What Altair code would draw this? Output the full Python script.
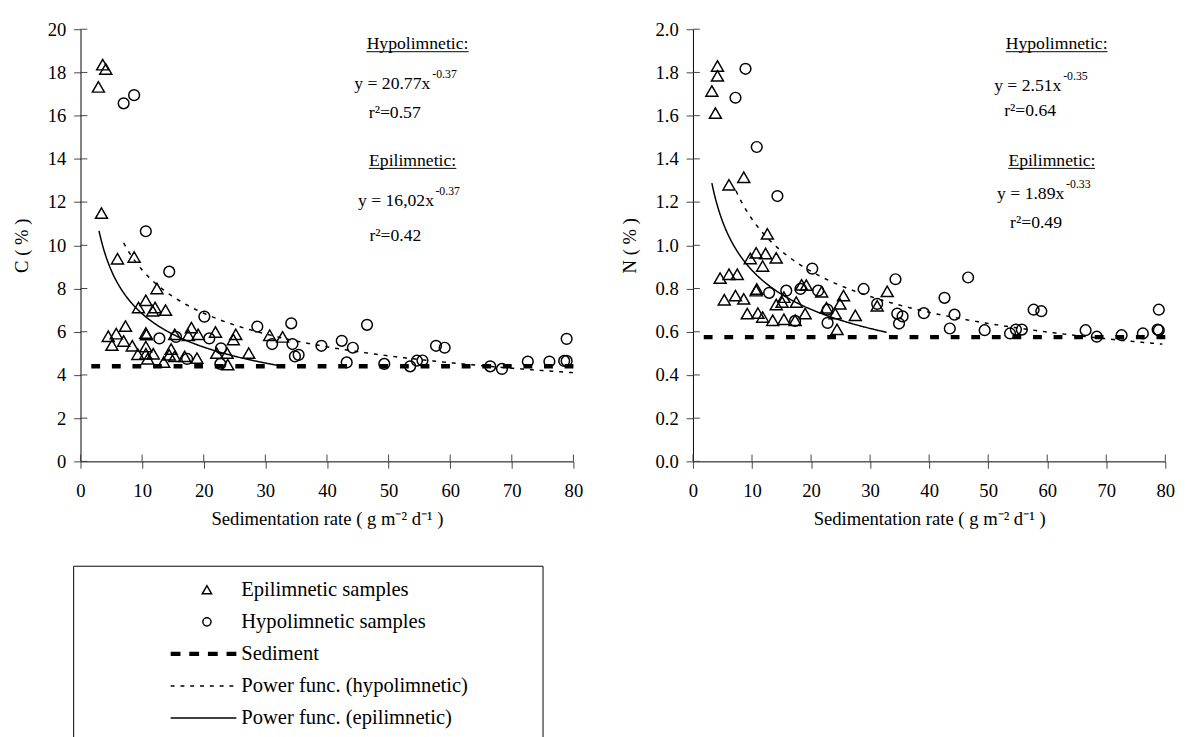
import altair as alt
import pandas as pd

FONT = "Liberation Serif"

# ---------------- data ----------------
# Carbon panel (C %)
epi_c_rate = [3.6, 4.1, 2.9, 3.4, 6.0, 8.7, 12.4, 10.6, 9.4, 12.1, 11.7, 13.8,
              4.5, 5.8, 5.1, 7.3, 7.0, 8.4, 9.3, 10.6, 10.7, 10.6, 10.6, 10.9,
              11.8, 13.5, 14.4, 14.7, 15.3, 15.3, 16.9, 17.5, 18.0, 18.9, 19.1, 21.9,
              22.1, 23.9, 23.8, 24.8, 25.2, 27.3, 30.7, 32.8]
epi_c_val = [18.36, 18.16, 17.33, 11.49, 9.38, 9.46, 8.0, 7.45, 7.12, 7.12, 6.97, 7.0,
             5.79, 5.91, 5.38, 6.26, 5.57, 5.35, 4.96, 5.94, 5.87, 5.31, 4.98, 4.75,
             4.98, 4.6, 4.93, 5.2, 5.88, 4.86, 4.86, 5.84, 6.19, 4.78, 5.88, 5.99,
             5.01, 4.48, 5.01, 5.64, 5.88, 5.01, 5.84, 5.76]
hypo_c_rate = [7.0, 8.7, 10.6, 14.4, 20.1, 12.8, 15.5, 20.9, 22.8, 17.3, 22.7, 28.7,
               31.1, 34.2, 34.4, 34.8, 35.4, 39.1, 42.4, 44.2, 43.2, 46.5, 49.3, 53.5,
               54.6, 55.5, 57.7, 59.1, 66.5, 68.4, 72.6, 76.1, 78.5, 78.9, 78.9]
hypo_c_val = [16.57, 16.95, 10.65, 8.78, 6.7, 5.69, 5.76, 5.69, 5.23, 4.74, 4.51, 6.24,
              5.43, 6.39, 5.43, 4.86, 4.93, 5.35, 5.58, 5.26, 4.58, 6.32, 4.51, 4.40,
              4.66, 4.67, 5.35, 5.26, 4.40, 4.28, 4.62, 4.62, 4.65, 4.65, 5.67]

# Nitrogen panel (N %)
epi_n_rate = [4.15, 4.15, 3.2, 3.8, 8.6, 6.1, 12.6, 10.7, 12.3, 9.7, 14.1, 11.8,
              4.6, 6.1, 7.5, 5.3, 7.2, 8.6, 10.7, 10.8, 15.4, 14.1, 15.1, 17.5,
              18.4, 19.2, 21.8, 9.2, 11.0, 11.8, 13.5, 15.4, 17.3, 19.0, 22.6, 24.1,
              24.4, 25.5, 24.9, 27.5, 31.2, 32.9]
epi_n_val = [1.83, 1.784, 1.714, 1.612, 1.315, 1.28, 1.053, 0.965, 0.962, 0.939, 0.942, 0.904,
             0.848, 0.866, 0.866, 0.748, 0.767, 0.752, 0.79, 0.798, 0.76, 0.726, 0.737, 0.737,
             0.817, 0.816, 0.785, 0.684, 0.686, 0.668, 0.653, 0.658, 0.653, 0.684, 0.711, 0.684,
             0.611, 0.767, 0.729, 0.676, 0.72, 0.787]
hypo_n_rate = [8.9, 7.2, 10.8, 14.3, 20.2, 12.9, 15.8, 18.2, 21.2, 17.3, 22.8, 22.8,
               28.9, 31.2, 34.3, 34.6, 35.5, 34.9, 39.1, 42.6, 44.3, 43.5, 46.6, 49.4,
               53.7, 54.7, 55.7, 57.7, 59.0, 66.5, 68.4, 72.6, 76.2, 78.7, 78.9, 78.9]
hypo_n_val = [1.817, 1.683, 1.455, 1.228, 0.892, 0.78, 0.79, 0.798, 0.79, 0.65, 0.702, 0.641,
              0.798, 0.729, 0.843, 0.684, 0.671, 0.638, 0.686, 0.757, 0.679, 0.615, 0.851, 0.607,
              0.592, 0.61, 0.61, 0.702, 0.695, 0.607, 0.577, 0.584, 0.592, 0.61, 0.607, 0.702]

sediment_c = 4.4
sediment_n = 0.575

# fitted power functions y = a * x^b, drawn over [x_start, x_end]
fit_c_hypo = {"a": 20.77, "b": -0.37, "start": 7.0, "end": 80.0}
fit_c_epi = {"a": 16.02, "b": -0.37, "start": 3.0, "end": 32.8}
fit_n_hypo = {"a": 2.51, "b": -0.35, "start": 7.3, "end": 79.5}
fit_n_epi = {"a": 1.89, "b": -0.33, "start": 3.2, "end": 32.9}

x_ticks = [0, 10, 20, 30, 40, 50, 60, 70, 80]
c_ticks = [0, 2, 4, 6, 8, 10, 12, 14, 16, 18, 20]
n_ticks = [0.0, 0.2, 0.4, 0.6, 0.8, 1.0, 1.2, 1.4, 1.6, 1.8, 2.0]

# annotation texts (positions in data units)
c_notes_text = ["Hypolimnetic:", "y = 20.77x", "r²=0.57", "Epilimnetic:", "y = 16,02x", "r²=0.42"]
c_notes_rate = [54.7, 50.6, 51.0, 53.9, 51.2, 51.1]
c_notes_val = [19.32, 17.46, 16.10, 13.92, 12.06, 10.43]
c_sup_text = ["-0.37", "-0.37"]
c_sup_rate = [57.1, 57.6]
c_sup_val = [17.91, 12.52]
c_under_rate = [46.4, 46.8]
c_under_rate2 = [63.0, 61.0]
c_under_val = [18.96, 13.56]

n_notes_text = ["Hypolimnetic:", "y = 2.51x", "r²=0.64", "Epilimnetic:", "y = 1.89x", "r²=0.49"]
n_notes_rate = [61.6, 56.7, 57.1, 60.8, 57.2, 58.1]
n_notes_val = [1.932, 1.737, 1.619, 1.392, 1.238, 1.102]
n_sup_text = ["-0.35", "-0.33"]
n_sup_rate = [62.7, 63.2]
n_sup_val = [1.783, 1.283]
n_under_rate = [53.0, 53.4]
n_under_rate2 = [70.2, 68.1]
n_under_val = [1.896, 1.356]

legend_labels = ["Epilimnetic samples", "Hypolimnetic samples", "Sediment",
                 "Power func. (hypolimnetic)", "Power func. (epilimnetic)"]

X_TITLE = "Sedimentation rate ( g m⁻² d⁻¹ )"


def panel(epi_x, epi_y, hypo_x, hypo_y, sed, fit_h, fit_e, ymax, yticks, ytitle, yfmt,
          notes, sups, unders, width, height, ytitle_pad):
    xs = alt.Scale(domain=[0, 80], nice=False, zero=False)
    ys = alt.Scale(domain=[0, ymax], nice=False, zero=False)
    xax = alt.Axis(values=x_ticks, title=X_TITLE, format="d", labelFlush=False,
                   labelPadding=14, titlePadding=9, tickSize=7)
    yax = alt.Axis(values=yticks, format=yfmt, title=ytitle, labelPadding=8,
                   titlePadding=ytitle_pad, tickSize=7)
    X = alt.X("rate:Q", scale=xs, axis=xax)
    Y = alt.Y("val:Q", scale=ys, axis=yax)

    epi = pd.DataFrame({"rate": epi_x, "val": epi_y})
    hyp = pd.DataFrame({"rate": hypo_x, "val": hypo_y})

    tri = alt.Chart(epi).mark_point(shape="triangle-up", size=150, filled=False,
                                    color="black", strokeWidth=1.5, opacity=1).encode(x=X, y=Y)
    circ = alt.Chart(hyp).mark_point(shape="circle", size=120, filled=False,
                                     color="black", strokeWidth=1.5, opacity=1).encode(x=X, y=Y)

    def curve(fit, dash, sw):
        expr = "{} * pow(datum.rate, {})".format(fit["a"], fit["b"])
        return (alt.Chart(alt.sequence(fit["start"], fit["end"] + 0.001, 0.2, as_="rate"))
                .transform_calculate(val=expr)
                .mark_line(color="black", strokeWidth=sw, strokeDash=dash)
                .encode(x=X, y=Y))

    hyp_line = curve(fit_h, [4, 6], 1.5)
    epi_line = curve(fit_e, [1, 0], 1.5)

    sed_df = pd.DataFrame({"val": [sed]})
    sed_line = alt.Chart(sed_df).mark_rule(color="black", strokeWidth=4.5,
                                           strokeDash=[9, 12]).encode(y=Y)

    ytk = pd.DataFrame({"val": yticks})
    ytick_in = alt.Chart(ytk).mark_rule(color="#444", strokeWidth=1).encode(
        y=Y, x=alt.value(0), x2=alt.value(7))
    xtk = pd.DataFrame({"rate": x_ticks})
    xtick_in = alt.Chart(xtk).mark_rule(color="#444", strokeWidth=1).encode(
        x=X, y=alt.value(height - 7), y2=alt.value(height))

    nt, nr, nv = notes
    note_df = pd.DataFrame({"t": nt, "rate": nr, "val": nv})
    note_layer = alt.Chart(note_df).mark_text(font=FONT, fontSize=18, color="black",
                                              align="center", baseline="middle").encode(
        x=X, y=Y, text="t:N")
    st, sr, sv = sups
    sup_df = pd.DataFrame({"t": st, "rate": sr, "val": sv})
    sup_layer = alt.Chart(sup_df).mark_text(font=FONT, fontSize=12, color="black",
                                            align="left", baseline="middle").encode(
        x=X, y=Y, text="t:N")
    ur, ur2, uv = unders
    und_df = pd.DataFrame({"rate": ur, "rate2": ur2, "val": uv})
    und_layer = alt.Chart(und_df).mark_rule(color="black", strokeWidth=1).encode(
        x=X, x2="rate2:Q", y=Y)

    return alt.layer(sed_line, hyp_line, epi_line, tri, circ, ytick_in, xtick_in,
                     note_layer, sup_layer, und_layer).properties(width=width, height=height)


left = panel(epi_c_rate, epi_c_val, hypo_c_rate, hypo_c_val, sediment_c,
             fit_c_hypo, fit_c_epi, 20, c_ticks, "C ( % )", "d",
             (c_notes_text, c_notes_rate, c_notes_val),
             (c_sup_text, c_sup_rate, c_sup_val),
             (c_under_rate, c_under_rate2, c_under_val),
             503, 441, 16)
right = panel(epi_n_rate, epi_n_val, hypo_n_rate, hypo_n_val, sediment_n,
              fit_n_hypo, fit_n_epi, 2.0, n_ticks, "N ( % )", ".1f",
              (n_notes_text, n_notes_rate, n_notes_val),
              (n_sup_text, n_sup_rate, n_sup_val),
              (n_under_rate, n_under_rate2, n_under_val),
              482, 441, 16)

# ---------------- legend box ----------------
leg_df = pd.DataFrame({"label": legend_labels, "row": list(range(len(legend_labels)))})
LH = 169
LY = alt.Y("row:Q", scale=alt.Scale(domain=[-0.734, 4.434], reverse=True, nice=False, zero=False),
           axis=None)
lbase = alt.Chart(leg_df)
l_box = lbase.transform_filter(alt.datum.row == 0).mark_rect(
    fill="transparent", stroke="black", strokeWidth=1
).encode(x=alt.value(-7), x2=alt.value(472), y=alt.value(0), y2=alt.value(LH + 12))
l_text = lbase.mark_text(font=FONT, fontSize=21, color="black", align="left",
                         baseline="middle").encode(y=LY, x=alt.value(164), text="label:N")
l_tri = lbase.transform_filter(alt.datum.row == 0).mark_point(
    shape="triangle-up", size=90, filled=False, color="black", strokeWidth=1.5, opacity=1
).encode(y=LY, x=alt.value(129))
l_circ = lbase.transform_filter(alt.datum.row == 1).mark_point(
    shape="circle", size=70, filled=False, color="black", strokeWidth=1.5, opacity=1
).encode(y=LY, x=alt.value(129))
l_sed = lbase.transform_filter(alt.datum.row == 2).mark_rule(
    color="black", strokeWidth=4.5, strokeDash=[10, 9]
).encode(y=LY, x=alt.value(92), x2=alt.value(159))
l_hyp = lbase.transform_filter(alt.datum.row == 3).mark_rule(
    color="black", strokeWidth=1.5, strokeDash=[4, 6]
).encode(y=LY, x=alt.value(92), x2=alt.value(159))
l_epi = lbase.transform_filter(alt.datum.row == 4).mark_rule(
    color="black", strokeWidth=1.5
).encode(y=LY, x=alt.value(92), x2=alt.value(159))

legend = alt.layer(l_box, l_text, l_tri, l_circ, l_sed, l_hyp, l_epi).properties(
    width=471, height=LH)

top = alt.hconcat(left, right, spacing=38)
chart = alt.vconcat(top, legend, spacing=38).configure_view(stroke=None).configure_axis(
    domainColor="black", domainWidth=1, tickColor="#444", tickWidth=1, grid=False,
    labelFont=FONT, labelFontSize=19, labelColor="black",
    titleFont=FONT, titleFontSize=19, titleFontWeight="normal", titleColor="black"
).properties(padding=5, background="white")

chart.save("out.html", embed_options={"renderer": "svg", "actions": False})
